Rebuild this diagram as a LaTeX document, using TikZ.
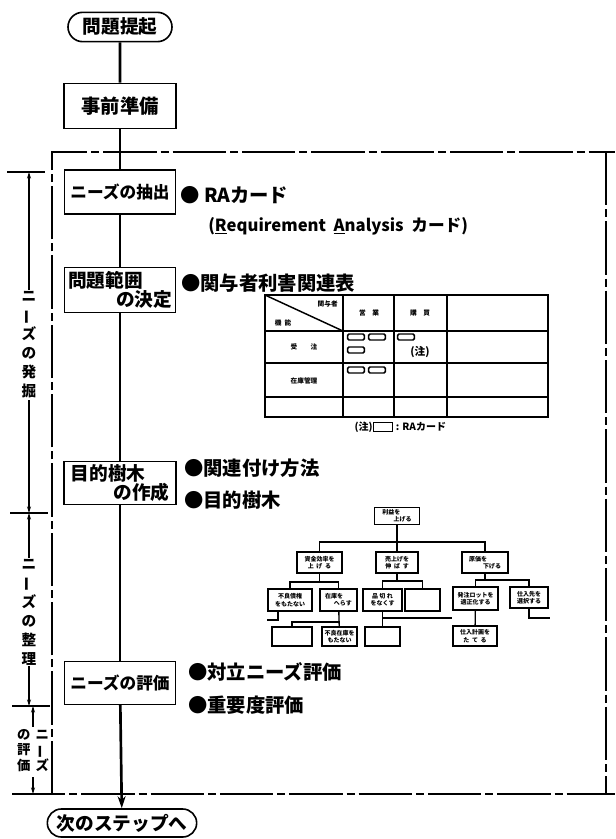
\documentclass[tikz,border=0pt]{standalone}
\usepackage{fontspec}
\setmainfont{Noto Sans CJK JP}
\usetikzlibrary{arrows.meta,shapes.misc}
\newcommand{\fsz}[1]{\fontsize{#1}{#1}\selectfont}
\newcommand{\fsb}[2]{\fontsize{#1}{#2}\selectfont}
\newcommand{\twoline}[3]{\makebox[#1][l]{#2}\\\makebox[#1][r]{#3}}
\newcommand{\vchoon}{\rotatebox[origin=c]{90}{ー}}
\begin{document}
\begin{tikzpicture}[x=0.75pt,y=-0.75pt,
  flow/.style={draw,line width=1.2pt,inner sep=1pt,font=\bfseries\fsz{12.5}},
  pill/.style={flow,rounded rectangle},
  bullet/.style={anchor=west,inner sep=0pt,font=\bfseries\fsz{14.5}},
  mainline/.style={line width=2pt},
  tbl/.style={line width=1.1pt},
  card/.style={draw,line width=1.1pt,rounded corners=1pt,minimum width=12.5pt,minimum height=4.5pt,inner sep=0pt},
  tbltext/.style={font=\bfseries\fsz{5},inner sep=0pt},
  tbox/.style={draw,line width=1.3pt,inner sep=0.5pt,align=center,font=\bfseries\fsb{4.5}{5.5}},
  tline/.style={line width=1pt},
  side/.style={fill=white,inner sep=1pt,align=center,font=\bfseries\fsb{11}{14.25}},
  frame/.style={line width=1.1pt,dash pattern=on 40pt off 3pt on 6pt off 3pt},
  tick/.style={line width=1.1pt},
  span/.style={line width=0.8pt,{Stealth[length=5pt,width=3pt]}-{Stealth[length=5pt,width=3pt]}},
]
\useasboundingbox (0,0) rectangle (615,839);

% ---------- frame ----------
\coordinate (ftl) at (52,152);
\coordinate (ftr) at (615,152);
\coordinate (fl) at (52,794);
\coordinate (rt) at (606,152);
\coordinate (rb) at (606,794);
\coordinate (fbl) at (12,794);
\coordinate (fbr) at (615,794);
\draw[frame] (fl) -- (ftl) -- (ftr);
\draw[frame] (rt) -- (rb);
\draw[frame] (fbl) -- (fbr);

% ---------- left phase annotation ----------
\coordinate (k1a) at (7,172);  \coordinate (k1b) at (45,172);
\coordinate (k2a) at (10,513); \coordinate (k2b) at (48,513);
\coordinate (k3a) at (12,706); \coordinate (k3b) at (50,706);
\draw[tick] (k1a) -- (k1b);
\draw[tick] (k2a) -- (k2b);
\draw[tick] (k3a) -- (k3b);
\coordinate (s1t) at (29,172); \coordinate (s1b) at (29,513);
\coordinate (s2t) at (29,513); \coordinate (s2b) at (29,706);
\coordinate (s3t) at (33,706); \coordinate (s3b) at (33,794);
\draw[span] (s1t) -- (s1b);
\draw[span] (s2t) -- (s2b);
\draw[span] (s3t) -- (s3b);
\node[side] (l1) at (29,345) {ニ\\\vchoon\\ズ\\の\\発\\掘};
\node[side] (l2) at (29,612) {ニ\\\vchoon\\ズ\\の\\整\\理};
\node[side,font=\bfseries\fsb{10}{11.25}] (l3) at (33,752) {\begin{tabular}{@{}c@{\hspace{4pt}}c@{}}の&ニ\\評&\vchoon\\価&ズ\end{tabular}};

% ---------- main flow ----------
\node[pill,minimum width=80pt,minimum height=22pt,font=\bfseries\fsz{14}] (start) at (120,27) {問題提起};
\node[flow,minimum width=84pt,minimum height=34pt,font=\bfseries\fsz{14.5}] (prep) at (120,106) {事前準備};
\node[flow,minimum width=83pt,minimum height=33pt] (extract) at (120,192) {ニーズの抽出};
\node[flow,minimum width=83pt,minimum height=34pt,align=center,font=\bfseries\fsb{14}{14.5}] (scope) at (120,290) {\twoline{78pt}{問題範囲}{の決定}};
\node[flow,minimum width=84pt,minimum height=32pt,align=center,font=\bfseries\fsb{14}{14.5}] (purpose) at (120,483) {\twoline{74pt}{目的樹木}{の作成}};
\node[flow,minimum width=83pt,minimum height=32pt] (evaluate) at (120,683) {ニーズの評価};
\node[pill,minimum width=112pt,minimum height=21pt,font=\bfseries\fsz{14},inner xsep=0pt] (next) at (122,823) {次のステップへ};

\draw[mainline] (start) -- (prep);
\draw[mainline] (prep) -- (extract);
\draw[mainline] (extract) -- (scope);
\draw[mainline] (scope) -- (purpose);
\draw[mainline] (purpose) -- (evaluate);
\draw[mainline,-{Stealth[length=9pt,width=6pt]}] (evaluate) -- (next);

% ---------- bullets ----------
\node[bullet] (ra) at (180,195) {● RAカード};
\node[anchor=west,inner sep=0pt,font=\bfseries\fsz{12.5}] (req) at (208,226) {(\underline{R}equirement\ \ \underline{A}nalysis\ \ カード)};
\node[bullet] (stake) at (181,283) {●関与者利害関連表};
\node[bullet] (relm) at (184,468) {●関連付け方法};
\node[bullet] (ptree) at (184,500) {●目的樹木};
\node[bullet] (conf) at (188,672) {●対立ニーズ評価};
\node[bullet] (imp) at (188,705) {●重要度評価};

% ---------- stakeholder table ----------
\draw[tbl] (265,295) rectangle (548,417);
\draw[tbl] (343,295) -- (343,417);
\draw[tbl] (394,295) -- (394,417);
\draw[tbl] (447,295) -- (447,417);
\draw[tbl] (265,331) -- (548,331);
\draw[tbl] (265,363) -- (548,363);
\draw[tbl] (265,397) -- (548,397);
\draw[tbl] (265,295) -- (343,331);
\node[tbltext,anchor=east] (hk) at (338,304) {関与者};
\node[tbltext] (hf) at (283,323) {機\ \ 能};
\node[tbltext] (c1) at (369,313) {営\quad 業};
\node[tbltext] (c2) at (420,313) {購\quad 買};
\node[tbltext] (r1) at (304,347) {受\qquad 注};
\node[tbltext] (r2) at (304,381) {在庫管理};
\node[card] (k1) at (356,337) {};
\node[card] (k2) at (377,337) {};
\node[card] (k3) at (356,350) {};
\node[card] (k4) at (406,337) {};
\node[font=\bfseries\fsz{8},inner sep=0pt] (nt) at (420,352) {(注)};
\node[card] (k5) at (356,370) {};
\node[card] (k6) at (377,370) {};
\node[font=\bfseries\fsz{7.5},anchor=east,inner sep=0pt] (n1) at (373,427) {(注)};
\node[draw,line width=1pt,minimum width=14pt,minimum height=6.5pt,inner sep=0pt,anchor=west] (n2) at (373,427) {};
\node[font=\bfseries\fsz{7.5},anchor=west,inner sep=0pt] (n3) at ([xshift=2pt]n2.east) {: RAカード};

% ---------- objective tree ----------
\node[tbox,minimum width=33.75pt,minimum height=12.75pt] (root) at (397,516) {\twoline{22pt}{利益を}{上げる}};
\node[tbox,minimum width=33.75pt,minimum height=15.75pt] (A) at (319.5,562.5) {資金効率を\\上\ \ げ\ \ る};
\node[tbox,minimum width=31.5pt,minimum height=15.75pt] (B) at (397,562.5) {売上げを\\伸\ \ ば\ \ す};
\node[tbox,minimum width=34.5pt,minimum height=15.75pt] (C) at (485,562.5) {\twoline{24pt}{原価を}{下げる}};
\node[tbox,minimum width=33pt,minimum height=16.5pt] (A1) at (290,600) {不良債権\\をもたない};
\node[tbox,minimum width=27.75pt,minimum height=16.5pt] (A2) at (338.5,600) {\twoline{20pt}{在庫を}{へらす}};
\node[tbox,minimum width=29.25pt,minimum height=16.5pt] (B1) at (382.5,600) {品\ 切\ れ\\をなくす};
\node[tbox,minimum width=26.25pt,minimum height=16.5pt] (B2) at (422.5,600) {};
\node[tbox,minimum width=33.75pt,minimum height=17.25pt] (C1) at (475.5,598.5) {発注ロットを\\適正化する};
\node[tbox,minimum width=28.5pt,minimum height=15.75pt] (C2) at (529,597.5) {仕入先を\\選択する};
\node[tbox,minimum width=30pt,minimum height=14.25pt] (A3) at (292,636.5) {};
\node[tbox,minimum width=26.25pt,minimum height=14.25pt] (A4) at (339.5,636.5) {不良在庫を\\もたない};
\node[tbox,minimum width=26.25pt,minimum height=14.25pt] (B3) at (382.5,636.5) {};
\node[tbox,minimum width=33pt,minimum height=15pt] (C3) at (475,636) {仕入計画を\\た\ \ て\ \ る};

\coordinate (rbar) at (397,542);
\draw[tline] (root) -- (B);
\draw[tline] (rbar) -| (A.north);
\draw[tline] (rbar) -| (C.north);
\coordinate (abar) at (319.5,582);
\draw[tline] (A.south) -- (abar);
\draw[tline] (abar) -| (A1.north);
\draw[tline] (abar) -| (A2.north);
\coordinate (bbar) at (397,581);
\draw[tline] (B.south) -- (bbar);
\draw[tline] (bbar) -| (B1.north);
\draw[tline] (bbar) -| (B2.north);
\coordinate (cbar) at (485,580);
\draw[tline] (C.south) -- (cbar);
\draw[tline] (cbar) -| (C1.north);
\draw[tline] (cbar) -| (C2.north);
\coordinate (a1d) at (278,620);
\coordinate (a1e) at (267,620);
\draw[tline] (A1.south -| a1d) -- (a1d) -- (a1e);
\coordinate (a2j) at (338.5,622);
\draw[tline] (A2) -- (A4);
\draw[tline] (a2j) -| (A3.north);
\coordinate (b1j) at (382.5,618);
\coordinate (b1e) at (452,618);
\draw[tline] (B1) -- (B3);
\draw[tline] (b1j) -- (b1e);
\draw[tline] (C1) -- (C3);
\coordinate (c2d) at (529,618);
\coordinate (c2e) at (550,618);
\draw[tline] (C2) -- (c2d) -- (c2e);
\end{tikzpicture}
\end{document}
